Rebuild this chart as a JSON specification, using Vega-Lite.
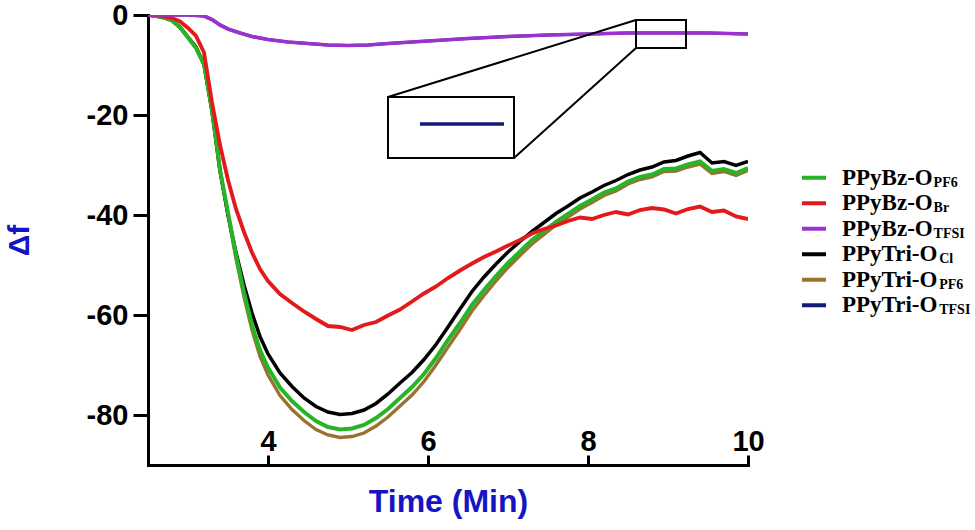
{
  "$schema": "https://vega.github.io/schema/vega-lite/v6.json",
  "width": 600,
  "height": 450,
  "autosize": {"type": "none"},
  "padding": {"left": 148, "top": 15, "right": 227, "bottom": 65},
  "background": "white",
  "config": {
    "view": {"stroke": null},
    "axis": {"grid": false}
  },
  "datasets": {
    "curves": [
      {"s":"Tri-TFSI","t":2.5,"v":0},{"s":"Tri-TFSI","t":3.0,"v":0},{"s":"Tri-TFSI","t":3.2,"v":-0.2},{"s":"Tri-TFSI","t":3.3,"v":-0.9},{"s":"Tri-TFSI","t":3.4,"v":-2.0},{"s":"Tri-TFSI","t":3.5,"v":-2.8},{"s":"Tri-TFSI","t":3.65,"v":-3.6},{"s":"Tri-TFSI","t":3.8,"v":-4.3},{"s":"Tri-TFSI","t":4.0,"v":-4.9},{"s":"Tri-TFSI","t":4.25,"v":-5.4},{"s":"Tri-TFSI","t":4.5,"v":-5.7},{"s":"Tri-TFSI","t":4.75,"v":-6.0},{"s":"Tri-TFSI","t":5.0,"v":-6.1},{"s":"Tri-TFSI","t":5.25,"v":-6.0},{"s":"Tri-TFSI","t":5.5,"v":-5.7},{"s":"Tri-TFSI","t":6.0,"v":-5.2},{"s":"Tri-TFSI","t":6.5,"v":-4.7},{"s":"Tri-TFSI","t":7.0,"v":-4.3},{"s":"Tri-TFSI","t":7.5,"v":-4.0},{"s":"Tri-TFSI","t":8.0,"v":-3.8},{"s":"Tri-TFSI","t":8.5,"v":-3.6},{"s":"Tri-TFSI","t":9.0,"v":-3.6},{"s":"Tri-TFSI","t":9.5,"v":-3.6},{"s":"Tri-TFSI","t":10.0,"v":-3.8},

      {"s":"Tri-PF6","t":2.5,"v":0},{"s":"Tri-PF6","t":2.6,"v":-0.2},{"s":"Tri-PF6","t":2.7,"v":-0.5},{"s":"Tri-PF6","t":2.8,"v":-1.1},{"s":"Tri-PF6","t":2.9,"v":-2.5},{"s":"Tri-PF6","t":3.0,"v":-4.5},{"s":"Tri-PF6","t":3.1,"v":-6.6},{"s":"Tri-PF6","t":3.2,"v":-9.8},{"s":"Tri-PF6","t":3.3,"v":-19.2},{"s":"Tri-PF6","t":3.4,"v":-31.3},{"s":"Tri-PF6","t":3.5,"v":-40.0},{"s":"Tri-PF6","t":3.6,"v":-48.7},{"s":"Tri-PF6","t":3.7,"v":-56.4},{"s":"Tri-PF6","t":3.8,"v":-63.0},{"s":"Tri-PF6","t":3.9,"v":-68.3},{"s":"Tri-PF6","t":4.0,"v":-72.0},{"s":"Tri-PF6","t":4.15,"v":-76.1},{"s":"Tri-PF6","t":4.3,"v":-78.9},{"s":"Tri-PF6","t":4.45,"v":-81.1},{"s":"Tri-PF6","t":4.6,"v":-82.9},{"s":"Tri-PF6","t":4.75,"v":-84.0},{"s":"Tri-PF6","t":4.9,"v":-84.5},{"s":"Tri-PF6","t":5.05,"v":-84.3},{"s":"Tri-PF6","t":5.2,"v":-83.6},{"s":"Tri-PF6","t":5.35,"v":-82.2},{"s":"Tri-PF6","t":5.5,"v":-80.4},{"s":"Tri-PF6","t":5.65,"v":-78.2},{"s":"Tri-PF6","t":5.8,"v":-76.0},{"s":"Tri-PF6","t":5.95,"v":-73.3},{"s":"Tri-PF6","t":6.1,"v":-70.0},{"s":"Tri-PF6","t":6.25,"v":-66.4},{"s":"Tri-PF6","t":6.4,"v":-62.9},{"s":"Tri-PF6","t":6.55,"v":-59.2},{"s":"Tri-PF6","t":6.7,"v":-56.1},{"s":"Tri-PF6","t":6.85,"v":-53.2},{"s":"Tri-PF6","t":7.0,"v":-50.5},{"s":"Tri-PF6","t":7.15,"v":-48.1},{"s":"Tri-PF6","t":7.3,"v":-45.8},{"s":"Tri-PF6","t":7.45,"v":-43.9},{"s":"Tri-PF6","t":7.6,"v":-42.0},{"s":"Tri-PF6","t":7.75,"v":-40.4},{"s":"Tri-PF6","t":7.9,"v":-38.8},{"s":"Tri-PF6","t":8.05,"v":-37.5},{"s":"Tri-PF6","t":8.2,"v":-36.1},{"s":"Tri-PF6","t":8.35,"v":-35.2},{"s":"Tri-PF6","t":8.5,"v":-33.8},{"s":"Tri-PF6","t":8.65,"v":-32.9},{"s":"Tri-PF6","t":8.8,"v":-32.4},{"s":"Tri-PF6","t":8.95,"v":-31.3},{"s":"Tri-PF6","t":9.1,"v":-31.2},{"s":"Tri-PF6","t":9.25,"v":-30.4},{"s":"Tri-PF6","t":9.4,"v":-29.8},{"s":"Tri-PF6","t":9.55,"v":-31.7},{"s":"Tri-PF6","t":9.7,"v":-31.3},{"s":"Tri-PF6","t":9.85,"v":-32.1},{"s":"Tri-PF6","t":10.0,"v":-31.1},

      {"s":"Tri-Cl","t":2.5,"v":0},{"s":"Tri-Cl","t":2.6,"v":-0.2},{"s":"Tri-Cl","t":2.7,"v":-0.5},{"s":"Tri-Cl","t":2.8,"v":-1.1},{"s":"Tri-Cl","t":2.9,"v":-2.4},{"s":"Tri-Cl","t":3.0,"v":-4.4},{"s":"Tri-Cl","t":3.1,"v":-6.4},{"s":"Tri-Cl","t":3.2,"v":-9.9},{"s":"Tri-Cl","t":3.3,"v":-19.2},{"s":"Tri-Cl","t":3.4,"v":-31.0},{"s":"Tri-Cl","t":3.5,"v":-40.0},{"s":"Tri-Cl","t":3.6,"v":-47.5},{"s":"Tri-Cl","t":3.7,"v":-54.0},{"s":"Tri-Cl","t":3.8,"v":-59.6},{"s":"Tri-Cl","t":3.9,"v":-64.3},{"s":"Tri-Cl","t":4.0,"v":-67.8},{"s":"Tri-Cl","t":4.15,"v":-71.6},{"s":"Tri-Cl","t":4.3,"v":-74.3},{"s":"Tri-Cl","t":4.45,"v":-76.6},{"s":"Tri-Cl","t":4.6,"v":-78.3},{"s":"Tri-Cl","t":4.75,"v":-79.4},{"s":"Tri-Cl","t":4.9,"v":-79.9},{"s":"Tri-Cl","t":5.05,"v":-79.7},{"s":"Tri-Cl","t":5.2,"v":-79.0},{"s":"Tri-Cl","t":5.35,"v":-77.7},{"s":"Tri-Cl","t":5.5,"v":-75.8},{"s":"Tri-Cl","t":5.65,"v":-73.6},{"s":"Tri-Cl","t":5.8,"v":-71.5},{"s":"Tri-Cl","t":5.95,"v":-68.9},{"s":"Tri-Cl","t":6.1,"v":-65.9},{"s":"Tri-Cl","t":6.25,"v":-62.4},{"s":"Tri-Cl","t":6.4,"v":-58.8},{"s":"Tri-Cl","t":6.55,"v":-55.3},{"s":"Tri-Cl","t":6.7,"v":-52.4},{"s":"Tri-Cl","t":6.85,"v":-49.8},{"s":"Tri-Cl","t":7.0,"v":-47.4},{"s":"Tri-Cl","t":7.15,"v":-45.3},{"s":"Tri-Cl","t":7.3,"v":-43.3},{"s":"Tri-Cl","t":7.45,"v":-41.5},{"s":"Tri-Cl","t":7.6,"v":-39.7},{"s":"Tri-Cl","t":7.75,"v":-38.2},{"s":"Tri-Cl","t":7.9,"v":-36.6},{"s":"Tri-Cl","t":8.05,"v":-35.4},{"s":"Tri-Cl","t":8.2,"v":-34.1},{"s":"Tri-Cl","t":8.35,"v":-33.1},{"s":"Tri-Cl","t":8.5,"v":-31.9},{"s":"Tri-Cl","t":8.65,"v":-31.0},{"s":"Tri-Cl","t":8.8,"v":-30.4},{"s":"Tri-Cl","t":8.95,"v":-29.4},{"s":"Tri-Cl","t":9.1,"v":-29.1},{"s":"Tri-Cl","t":9.25,"v":-28.2},{"s":"Tri-Cl","t":9.4,"v":-27.5},{"s":"Tri-Cl","t":9.55,"v":-29.6},{"s":"Tri-Cl","t":9.7,"v":-29.3},{"s":"Tri-Cl","t":9.85,"v":-30.1},{"s":"Tri-Cl","t":10.0,"v":-29.3},

      {"s":"Bz-PF6","t":2.5,"v":0},{"s":"Bz-PF6","t":2.6,"v":-0.2},{"s":"Bz-PF6","t":2.7,"v":-0.5},{"s":"Bz-PF6","t":2.8,"v":-1.1},{"s":"Bz-PF6","t":2.9,"v":-2.5},{"s":"Bz-PF6","t":3.0,"v":-4.5},{"s":"Bz-PF6","t":3.1,"v":-6.6},{"s":"Bz-PF6","t":3.2,"v":-9.8},{"s":"Bz-PF6","t":3.3,"v":-19.0},{"s":"Bz-PF6","t":3.4,"v":-31.0},{"s":"Bz-PF6","t":3.5,"v":-39.5},{"s":"Bz-PF6","t":3.6,"v":-48.0},{"s":"Bz-PF6","t":3.7,"v":-55.5},{"s":"Bz-PF6","t":3.8,"v":-62.0},{"s":"Bz-PF6","t":3.9,"v":-67.0},{"s":"Bz-PF6","t":4.0,"v":-70.5},{"s":"Bz-PF6","t":4.15,"v":-74.5},{"s":"Bz-PF6","t":4.3,"v":-77.2},{"s":"Bz-PF6","t":4.45,"v":-79.4},{"s":"Bz-PF6","t":4.6,"v":-81.2},{"s":"Bz-PF6","t":4.75,"v":-82.4},{"s":"Bz-PF6","t":4.9,"v":-82.9},{"s":"Bz-PF6","t":5.05,"v":-82.7},{"s":"Bz-PF6","t":5.2,"v":-82.0},{"s":"Bz-PF6","t":5.35,"v":-80.6},{"s":"Bz-PF6","t":5.5,"v":-78.8},{"s":"Bz-PF6","t":5.65,"v":-76.6},{"s":"Bz-PF6","t":5.8,"v":-74.4},{"s":"Bz-PF6","t":5.95,"v":-71.8},{"s":"Bz-PF6","t":6.1,"v":-68.6},{"s":"Bz-PF6","t":6.25,"v":-65.0},{"s":"Bz-PF6","t":6.4,"v":-61.6},{"s":"Bz-PF6","t":6.55,"v":-58.0},{"s":"Bz-PF6","t":6.7,"v":-55.0},{"s":"Bz-PF6","t":6.85,"v":-52.2},{"s":"Bz-PF6","t":7.0,"v":-49.6},{"s":"Bz-PF6","t":7.15,"v":-47.3},{"s":"Bz-PF6","t":7.3,"v":-45.0},{"s":"Bz-PF6","t":7.45,"v":-43.2},{"s":"Bz-PF6","t":7.6,"v":-41.4},{"s":"Bz-PF6","t":7.75,"v":-39.8},{"s":"Bz-PF6","t":7.9,"v":-38.2},{"s":"Bz-PF6","t":8.05,"v":-36.9},{"s":"Bz-PF6","t":8.2,"v":-35.5},{"s":"Bz-PF6","t":8.35,"v":-34.7},{"s":"Bz-PF6","t":8.5,"v":-33.3},{"s":"Bz-PF6","t":8.65,"v":-32.4},{"s":"Bz-PF6","t":8.8,"v":-31.9},{"s":"Bz-PF6","t":8.95,"v":-30.8},{"s":"Bz-PF6","t":9.1,"v":-30.7},{"s":"Bz-PF6","t":9.25,"v":-29.9},{"s":"Bz-PF6","t":9.4,"v":-29.3},{"s":"Bz-PF6","t":9.55,"v":-31.2},{"s":"Bz-PF6","t":9.7,"v":-30.8},{"s":"Bz-PF6","t":9.85,"v":-31.6},{"s":"Bz-PF6","t":10.0,"v":-30.6},

      {"s":"Bz-Br","t":2.5,"v":0},{"s":"Bz-Br","t":2.6,"v":0},{"s":"Bz-Br","t":2.7,"v":-0.3},{"s":"Bz-Br","t":2.8,"v":-0.6},{"s":"Bz-Br","t":2.9,"v":-1.3},{"s":"Bz-Br","t":3.0,"v":-2.6},{"s":"Bz-Br","t":3.1,"v":-4.2},{"s":"Bz-Br","t":3.2,"v":-7.5},{"s":"Bz-Br","t":3.3,"v":-17.5},{"s":"Bz-Br","t":3.4,"v":-26.0},{"s":"Bz-Br","t":3.5,"v":-33.0},{"s":"Bz-Br","t":3.6,"v":-38.8},{"s":"Bz-Br","t":3.7,"v":-43.4},{"s":"Bz-Br","t":3.8,"v":-47.5},{"s":"Bz-Br","t":3.9,"v":-50.8},{"s":"Bz-Br","t":4.0,"v":-53.2},{"s":"Bz-Br","t":4.15,"v":-55.8},{"s":"Bz-Br","t":4.3,"v":-57.6},{"s":"Bz-Br","t":4.45,"v":-59.3},{"s":"Bz-Br","t":4.6,"v":-60.8},{"s":"Bz-Br","t":4.75,"v":-62.2},{"s":"Bz-Br","t":4.9,"v":-62.4},{"s":"Bz-Br","t":5.05,"v":-63.0},{"s":"Bz-Br","t":5.2,"v":-62.0},{"s":"Bz-Br","t":5.35,"v":-61.4},{"s":"Bz-Br","t":5.5,"v":-60.1},{"s":"Bz-Br","t":5.65,"v":-58.9},{"s":"Bz-Br","t":5.8,"v":-57.3},{"s":"Bz-Br","t":5.95,"v":-55.7},{"s":"Bz-Br","t":6.1,"v":-54.3},{"s":"Bz-Br","t":6.25,"v":-52.6},{"s":"Bz-Br","t":6.4,"v":-51.1},{"s":"Bz-Br","t":6.55,"v":-49.7},{"s":"Bz-Br","t":6.7,"v":-48.4},{"s":"Bz-Br","t":6.85,"v":-47.3},{"s":"Bz-Br","t":7.0,"v":-46.1},{"s":"Bz-Br","t":7.15,"v":-45.0},{"s":"Bz-Br","t":7.3,"v":-43.7},{"s":"Bz-Br","t":7.45,"v":-42.8},{"s":"Bz-Br","t":7.6,"v":-42.1},{"s":"Bz-Br","t":7.75,"v":-41.2},{"s":"Bz-Br","t":7.9,"v":-40.5},{"s":"Bz-Br","t":8.05,"v":-40.8},{"s":"Bz-Br","t":8.2,"v":-40.0},{"s":"Bz-Br","t":8.35,"v":-39.4},{"s":"Bz-Br","t":8.5,"v":-39.9},{"s":"Bz-Br","t":8.65,"v":-39.0},{"s":"Bz-Br","t":8.8,"v":-38.6},{"s":"Bz-Br","t":8.95,"v":-38.9},{"s":"Bz-Br","t":9.1,"v":-39.7},{"s":"Bz-Br","t":9.25,"v":-38.8},{"s":"Bz-Br","t":9.4,"v":-38.3},{"s":"Bz-Br","t":9.55,"v":-39.4},{"s":"Bz-Br","t":9.7,"v":-39.1},{"s":"Bz-Br","t":9.85,"v":-40.3},{"s":"Bz-Br","t":10.0,"v":-40.8},

      {"s":"Bz-TFSI","t":2.5,"v":0},{"s":"Bz-TFSI","t":3.0,"v":0},{"s":"Bz-TFSI","t":3.2,"v":-0.2},{"s":"Bz-TFSI","t":3.3,"v":-0.9},{"s":"Bz-TFSI","t":3.4,"v":-2.0},{"s":"Bz-TFSI","t":3.5,"v":-2.8},{"s":"Bz-TFSI","t":3.65,"v":-3.6},{"s":"Bz-TFSI","t":3.8,"v":-4.3},{"s":"Bz-TFSI","t":4.0,"v":-4.9},{"s":"Bz-TFSI","t":4.25,"v":-5.4},{"s":"Bz-TFSI","t":4.5,"v":-5.7},{"s":"Bz-TFSI","t":4.75,"v":-6.0},{"s":"Bz-TFSI","t":5.0,"v":-6.1},{"s":"Bz-TFSI","t":5.25,"v":-6.0},{"s":"Bz-TFSI","t":5.5,"v":-5.7},{"s":"Bz-TFSI","t":6.0,"v":-5.2},{"s":"Bz-TFSI","t":6.5,"v":-4.7},{"s":"Bz-TFSI","t":7.0,"v":-4.3},{"s":"Bz-TFSI","t":7.5,"v":-4.0},{"s":"Bz-TFSI","t":8.0,"v":-3.8},{"s":"Bz-TFSI","t":8.5,"v":-3.6},{"s":"Bz-TFSI","t":9.0,"v":-3.6},{"s":"Bz-TFSI","t":9.5,"v":-3.6},{"s":"Bz-TFSI","t":10.0,"v":-3.8}
    ],
    "legend": [
      {"s":"Bz-PF6","main":"PPyBz-O","sub":"PF6","fam":"Bz"},
      {"s":"Bz-Br","main":"PPyBz-O","sub":"Br","fam":"Bz"},
      {"s":"Bz-TFSI","main":"PPyBz-O","sub":"TFSI","fam":"Bz"},
      {"s":"Tri-Cl","main":"PPyTri-O","sub":"Cl","fam":"Tri"},
      {"s":"Tri-PF6","main":"PPyTri-O","sub":"PF6","fam":"Tri"},
      {"s":"Tri-TFSI","main":"PPyTri-O","sub":"TFSI","fam":"Tri"}
    ],
    "inset": [
      {"part":"box","x":5.5,"x2":7.075,"y":-16.4,"y2":-28.6},
      {"part":"box","x":8.6,"x2":9.225,"y":-1.0,"y2":-6.6},
      {"part":"link","x":5.5,"x2":8.6,"y":-16.4,"y2":-1.0},
      {"part":"link","x":7.075,"x2":8.6,"y":-28.6,"y2":-6.6},
      {"part":"seg","x":5.9,"x2":6.95,"y":-21.8,"y2":-21.8}
    ]
  },
  "layer": [
    {
      "layer": [
        {
          "data": {"name": "curves"},
          "mark": {"type": "line", "clip": true},
          "encoding": {
            "x": {
              "field": "t",
              "type": "quantitative",
              "scale": {"domain": [2.5, 10], "nice": false, "zero": false},
              "axis": {
                "title": "Time (Min)",
                "values": [4, 6, 8, 10],
                "labelExpr": "'' + datum.value",
                "labelFlush": false,
                "domainColor": "black",
                "domainWidth": 3,
                "domainCap": "square",
                "tickColor": "black",
                "tickWidth": 3,
                "tickSize": -10,
                "labelPadding": -5,
                "labelBaseline": "alphabetic",
                "labelFont": "Liberation Sans",
                "labelFontWeight": "bold",
                "labelFontSize": 29,
                "labelColor": "black",
                "titleFont": "Liberation Sans",
                "titleFontWeight": "bold",
                "titleFontSize": 32,
                "titleColor": "#1515c3",
                "titlePadding": 20
              }
            },
            "y": {
              "field": "v",
              "type": "quantitative",
              "scale": {"domain": [-90, 0], "nice": false, "zero": false},
              "axis": {
                "title": "Δf",
                "values": [0, -20, -40, -60, -80],
                "labelExpr": "'' + datum.value",
                "domainColor": "black",
                "domainWidth": 3,
                "domainCap": "square",
                "tickColor": "black",
                "tickWidth": 3,
                "tickSize": 15,
                "labelPadding": 5,
                "labelFont": "Liberation Sans",
                "labelFontWeight": "bold",
                "labelFontSize": 29,
                "labelColor": "black",
                "titleFont": "Liberation Sans",
                "titleFontWeight": "bold",
                "titleFontSize": 30,
                "titleColor": "#1515c3",
                "titlePadding": 52
              }
            },
            "color": {
              "field": "s",
              "type": "nominal",
              "scale": {
                "domain": ["Bz-PF6", "Bz-Br", "Bz-TFSI", "Tri-Cl", "Tri-PF6", "Tri-TFSI"],
                "range": ["#27b427", "#e31a1c", "#9a32cd", "#000000", "#9b7132", "#141a78"]
              },
              "legend": null
            },
            "strokeWidth": {
              "field": "s",
              "type": "nominal",
              "scale": {
                "domain": ["Bz-PF6", "Bz-Br", "Bz-TFSI", "Tri-Cl", "Tri-PF6", "Tri-TFSI"],
                "range": [4, 3.2, 4.5, 3.5, 3.5, 3]
              },
              "legend": null
            }
          }
        },
        {
          "mark": {"type": "rule", "color": "black", "strokeWidth": 3.5, "strokeCap": "round", "strokeDash": [0.5, 11.5]},
          "encoding": {"y": {"datum": 0}}
        },
        {
          "data": {"name": "inset"},
          "transform": [{"filter": "datum.part == 'box'"}],
          "mark": {"type": "rect", "filled": false, "stroke": "black", "strokeWidth": 2},
          "encoding": {
            "x": {"field": "x", "type": "quantitative"},
            "x2": {"field": "x2"},
            "y": {"field": "y", "type": "quantitative"},
            "y2": {"field": "y2"}
          }
        },
        {
          "data": {"name": "inset"},
          "transform": [{"filter": "datum.part == 'link'"}],
          "mark": {"type": "rule", "color": "black", "strokeWidth": 2},
          "encoding": {
            "x": {"field": "x", "type": "quantitative"},
            "x2": {"field": "x2"},
            "y": {"field": "y", "type": "quantitative"},
            "y2": {"field": "y2"}
          }
        },
        {
          "data": {"name": "inset"},
          "transform": [{"filter": "datum.part == 'seg'"}],
          "mark": {"type": "rule", "color": "#141a78", "strokeWidth": 3.5},
          "encoding": {
            "x": {"field": "x", "type": "quantitative"},
            "x2": {"field": "x2"},
            "y": {"field": "y", "type": "quantitative"}
          }
        }
      ]
    },
    {
      "data": {"name": "legend"},
      "layer": [
        {
          "mark": {"type": "rule", "strokeWidth": 4},
          "encoding": {
            "x": {"datum": 10.675},
            "x2": {"datum": 10.975},
            "y": {
              "field": "s",
              "type": "nominal",
              "scale": {
                "type": "point",
                "domain": ["Bz-PF6", "Bz-Br", "Bz-TFSI", "Tri-Cl", "Tri-PF6", "Tri-TFSI"],
                "range": [150, 303]
              },
              "axis": null
            },
            "color": {"field": "s", "type": "nominal", "legend": null}
          }
        },
        {
          "mark": {"type": "text", "align": "left", "baseline": "alphabetic", "dy": 7, "font": "Liberation Serif", "fontWeight": "bold", "fontSize": 23, "color": "black"},
          "encoding": {
            "x": {"datum": 11.175},
            "y": {"field": "s", "type": "nominal"},
            "text": {"field": "main"}
          }
        },
        {
          "transform": [{"filter": "datum.fam == 'Bz'"}],
          "mark": {"type": "text", "align": "left", "baseline": "alphabetic", "dy": 9, "font": "Liberation Serif", "fontWeight": "bold", "fontSize": 14, "color": "black"},
          "encoding": {
            "x": {"datum": 12.32},
            "y": {"field": "s", "type": "nominal"},
            "text": {"field": "sub"}
          }
        },
        {
          "transform": [{"filter": "datum.fam == 'Tri'"}],
          "mark": {"type": "text", "align": "left", "baseline": "alphabetic", "dy": 9, "font": "Liberation Serif", "fontWeight": "bold", "fontSize": 14, "color": "black"},
          "encoding": {
            "x": {"datum": 12.39},
            "y": {"field": "s", "type": "nominal"},
            "text": {"field": "sub"}
          }
        }
      ]
    }
  ],
  "resolve": {"scale": {"y": "independent"}, "axis": {"y": "independent"}}
}
